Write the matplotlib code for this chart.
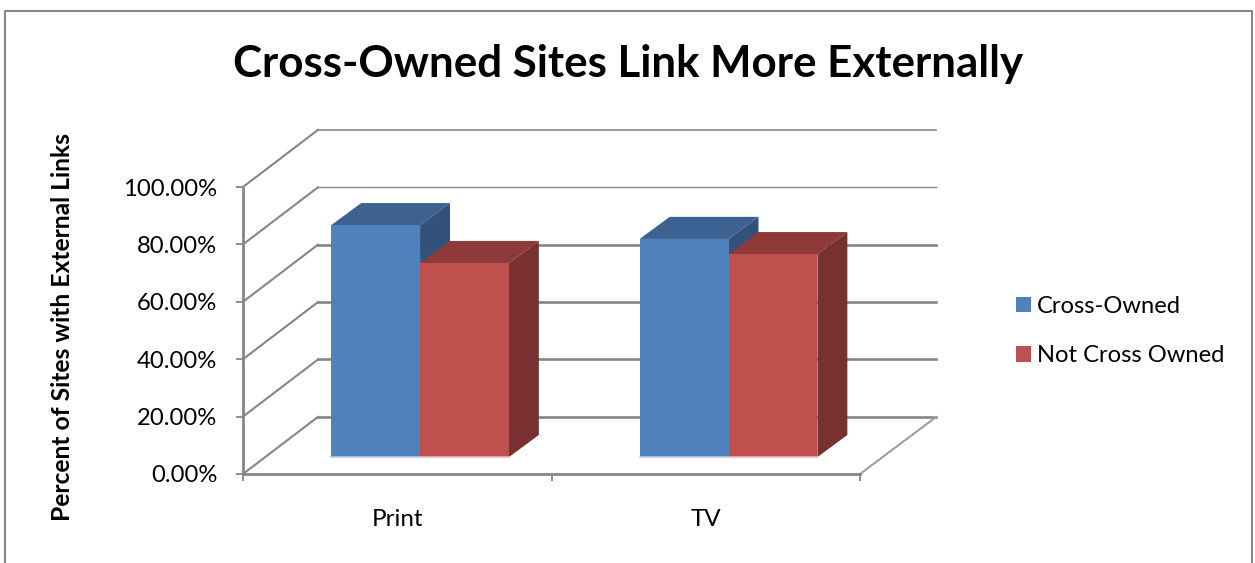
import matplotlib
matplotlib.use("Agg")
import matplotlib.pyplot as plt
from matplotlib.lines import Line2D

plt.rcParams['font.family'] = ['Lato', 'DejaVu Sans']

categories = ['Print', 'TV']
series_names = ['Cross-Owned', 'Not Cross Owned']
cross_owned = [80.8, 76.0]
not_cross_owned = [67.6, 70.7]
y_ticks = [0, 20, 40, 60, 80, 100]
title = 'Cross-Owned Sites Link More Externally'
y_title = 'Percent of Sites with External Links'

W, H = 1255, 563
GRAY = '#868686'

# colours per series: front, top, side, light base edge
blue = ('#4F81BD', '#3D6291', '#32527C', '#B9CDE5')
red = ('#C0504D', '#8E3A38', '#783130', '#E6B9B8')

# depth of the 3D box in data units
wall_dx, wall_dy = 0.243, 19.9
bar_dx, bar_dy = 0.097, 7.7
floor_x, floor_y = 0.074, 5.9
bar_w = 0.288

fig = plt.figure(figsize=(W / 100, H / 100), dpi=100)
ax = fig.add_axes([243 / W, (H - 474) / H, 617 / W, 287 / H])
ax.set_xlim(0, 2)
ax.set_ylim(0, 100)
ax.patch.set_visible(False)

# chart border, open at the bottom
fig.add_artist(Line2D([5 / W, 5 / W, 1252 / W, 1252 / W],
                      [0, (H - 11) / H, (H - 11) / H, 0],
                      color=GRAY, lw=1.5, transform=fig.transFigure))

# walls and floor
line_widths = [1.9, 1.9, 1.9, 1.9, 1.0, 1.2]
for t, lw in zip(y_ticks, line_widths):
    ax.plot([0, wall_dx], [t, t + wall_dy], color=GRAY, lw=1.5, clip_on=False, zorder=1)
    ax.plot([wall_dx, 2 + wall_dx + 0.004], [t + wall_dy, t + wall_dy], color=GRAY, lw=lw, clip_on=False, zorder=1)
ax.plot([2, 2 + wall_dx + 0.004], [0, wall_dy], color='#A0A0A0', lw=1.5, clip_on=False, zorder=1)


def draw_series(values, x_offset, colors, label, z):
    front, top, side, edge = colors
    for i, v in enumerate(values):
        left = i + 0.5 + floor_x + x_offset
        right = left + bar_w
        base = floor_y
        ax.fill([left, right, right + bar_dx, left + bar_dx],
                [base + v, base + v, base + v + bar_dy, base + v + bar_dy],
                color=top, lw=0, clip_on=False, zorder=z)
        ax.fill([right, right + bar_dx, right + bar_dx, right],
                [base, base + bar_dy, base + v + bar_dy, base + v],
                color=side, lw=0, clip_on=False, zorder=z)
        ax.plot([left, right], [base, base], color=edge, lw=1.2, clip_on=False, zorder=z + 1)
    xs = [i + 0.5 + floor_x + x_offset for i in range(len(values))]
    return ax.bar(xs, values, width=bar_w, bottom=floor_y, align='edge', color=front,
                  lw=0, label=label, clip_on=False, zorder=z + 0.5)


draw_series(cross_owned, -bar_w, blue, series_names[0], 3)
draw_series(not_cross_owned, 0, red, series_names[1], 5)

# axes
for s in ['top', 'right']:
    ax.spines[s].set_visible(False)
for s in ['left', 'bottom']:
    ax.spines[s].set_color(GRAY)
    ax.spines[s].set_linewidth(2.0)
    ax.spines[s].set_zorder(2)
ax.set_yticks(y_ticks)
ax.set_yticklabels([f'{t:.2f}%' for t in y_ticks], fontsize=17.2, color='black')
ax.tick_params(axis='y', length=5, width=1.3, color=GRAY, pad=13.5)
ax.set_xticks([0, 1, 2])
ax.set_xticklabels([])
ax.set_xticks([0.5, 1.5], minor=True)
ax.set_xticklabels(categories, minor=True, fontsize=17.4, color='black')
ax.tick_params(axis='x', which='major', length=5, width=1.3, color=GRAY)
ax.tick_params(axis='x', which='minor', length=0, pad=25)

fig.text(628 / W, 1 - 64 / H, title, fontsize=31.6, fontweight='bold', ha='center', va='center')
fig.text(63 / W, 1 - 327 / H, y_title, fontsize=17.7, fontweight='bold', rotation=90, ha='center', va='center')

ax.legend(loc='upper left', bbox_to_anchor=(1016 / W, 1 - 296 / H), bbox_transform=fig.transFigure,
          frameon=False, fontsize=17.1, handlelength=0.63, handleheight=0.63, handletextpad=0.25,
          labelspacing=1.2, borderpad=0, borderaxespad=0)

fig.savefig('out.png', dpi=100)
